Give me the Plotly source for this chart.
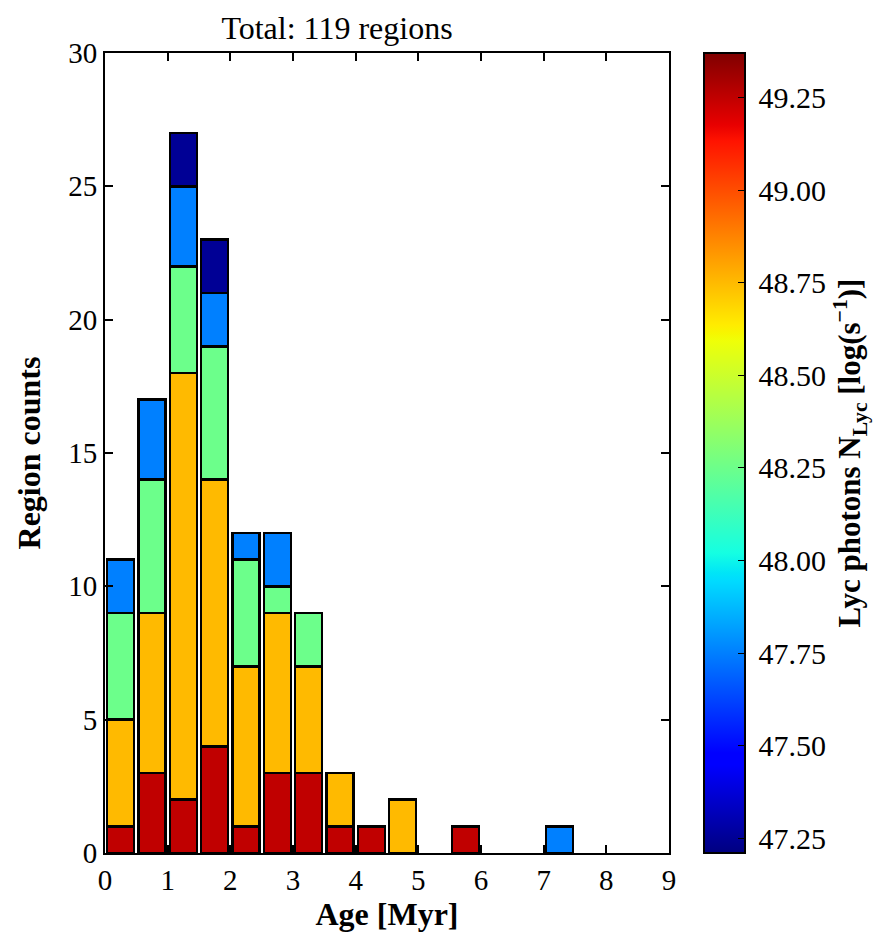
import plotly.graph_objects as go

# Age bins (Myr), bin width 0.5
bin_centers = [0.25, 0.75, 1.25, 1.75, 2.25, 2.75, 3.25, 3.75, 4.25, 4.75, 5.75, 7.25]

# Lyc photon classes (log N_Lyc) and counts per age bin, stacked bottom to top
lyc_values = [49.25, 48.75, 48.25, 47.75, 47.25]
counts_4925 = [1, 3, 2, 4, 1, 3, 3, 1, 1, 0, 1, 0]
counts_4875 = [4, 6, 16, 10, 6, 6, 4, 2, 0, 2, 0, 0]
counts_4825 = [4, 5, 4, 5, 4, 1, 2, 0, 0, 0, 0, 0]
counts_4775 = [2, 3, 3, 2, 1, 2, 0, 0, 0, 0, 0, 1]
counts_4725 = [0, 0, 2, 2, 0, 0, 0, 0, 0, 0, 0, 0]
series_counts = [counts_4925, counts_4875, counts_4825, counts_4775, counts_4725]

x_ticks = list(range(0, 10))
y_ticks = [0, 5, 10, 15, 20, 25, 30]
cbar_ticks = [47.25, 47.50, 47.75, 48.00, 48.25, 48.50, 48.75, 49.00, 49.25]
cmin, cmax = 47.21, 49.37

# matplotlib 'jet' segment data
_jet = {
    "r": [(0, 0), (0.35, 0), (0.66, 1), (0.89, 1), (1, 0.5)],
    "g": [(0, 0), (0.125, 0), (0.375, 1), (0.64, 1), (0.91, 0), (1, 0)],
    "b": [(0, 0.5), (0.11, 1), (0.34, 1), (0.65, 0), (1, 0)],
}


def _interp(pts, t):
    for (x0, y0), (x1, y1) in zip(pts[:-1], pts[1:]):
        if x0 <= t <= x1:
            return y0 + (y1 - y0) * (t - x0) / (x1 - x0)
    return pts[-1][1]


def jet(t):
    t = min(max(t, 0), 1)
    r, g, b = (int(round(255 * _interp(_jet[c], t))) for c in "rgb")
    return f"rgb({r},{g},{b})"


stops = sorted({0, 0.11, 0.125, 0.34, 0.35, 0.375, 0.64, 0.65, 0.66, 0.89, 0.91, 1})
jet_scale = [[s, jet(s)] for s in stops]

font_family = "Liberation Serif, DejaVu Serif, serif"
tick_size = 29
label_size = 32

fig = go.Figure()
for val, cnts in zip(lyc_values, series_counts):
    color = jet((val - cmin) / (cmax - cmin))
    fig.add_trace(go.Bar(
        x=bin_centers,
        y=[c if c > 0 else None for c in cnts],
        width=0.43,
        marker=dict(color=color, line=dict(color="black", width=2.4)),
        name=str(val),
        showlegend=False,
    ))

# colorbar carrier
fig.add_trace(go.Scatter(
    x=[None], y=[None], mode="markers", showlegend=False,
    marker=dict(
        color=[cmin], cmin=cmin, cmax=cmax, colorscale=jet_scale, showscale=True,
        colorbar=dict(
            x=(704 - 105) / 565, xanchor="left", y=0.5, yanchor="middle", len=1.0, lenmode="fraction",
            thickness=41, ypad=0, xpad=0,
            outlinecolor="black", outlinewidth=2,
            tickvals=cbar_ticks, ticktext=[f"\u2009{v:.2f}" for v in cbar_ticks],
            ticks="inside", ticklen=8, tickcolor="black",
            tickfont=dict(family=font_family, size=30, color="black"),
            title=dict(
                text="<b>Lyc photons N<sub>Lyc</sub> [log(s<sup>−1</sup>)]</b>",
                side="right",
                font=dict(family=font_family, size=31, color="black"),
            ),
        ),
    ),
))

axis_common = dict(
    showline=True, linecolor="black", linewidth=2, mirror="allticks",
    ticks="inside", ticklen=8, tickwidth=1.5, tickcolor="black",
    showgrid=False, zeroline=False,
    tickfont=dict(family=font_family, size=tick_size, color="black"),
)

fig.update_layout(
    width=883, height=934,
    margin=dict(l=105, r=213, t=53, b=81),
    barmode="stack",
    plot_bgcolor="white", paper_bgcolor="white",
    title=dict(
        text="Total: 119 regions", x=337 / 883, xanchor="center",
        y=1 - 28 / 934, yanchor="middle",
        font=dict(family=font_family, size=32, color="black"),
    ),
    xaxis=dict(
        range=[0, 9], tickvals=x_ticks,
        title=dict(text="<b>Age [Myr]</b>", font=dict(family=font_family, size=label_size, color="black"), standoff=2),
        **axis_common,
    ),
    yaxis=dict(
        range=[0, 30], tickvals=y_ticks,
        title=dict(text="<b>Region counts</b>", font=dict(family=font_family, size=label_size, color="black"), standoff=18),
        **axis_common,
    ),
)

fig.write_html("out.html")
